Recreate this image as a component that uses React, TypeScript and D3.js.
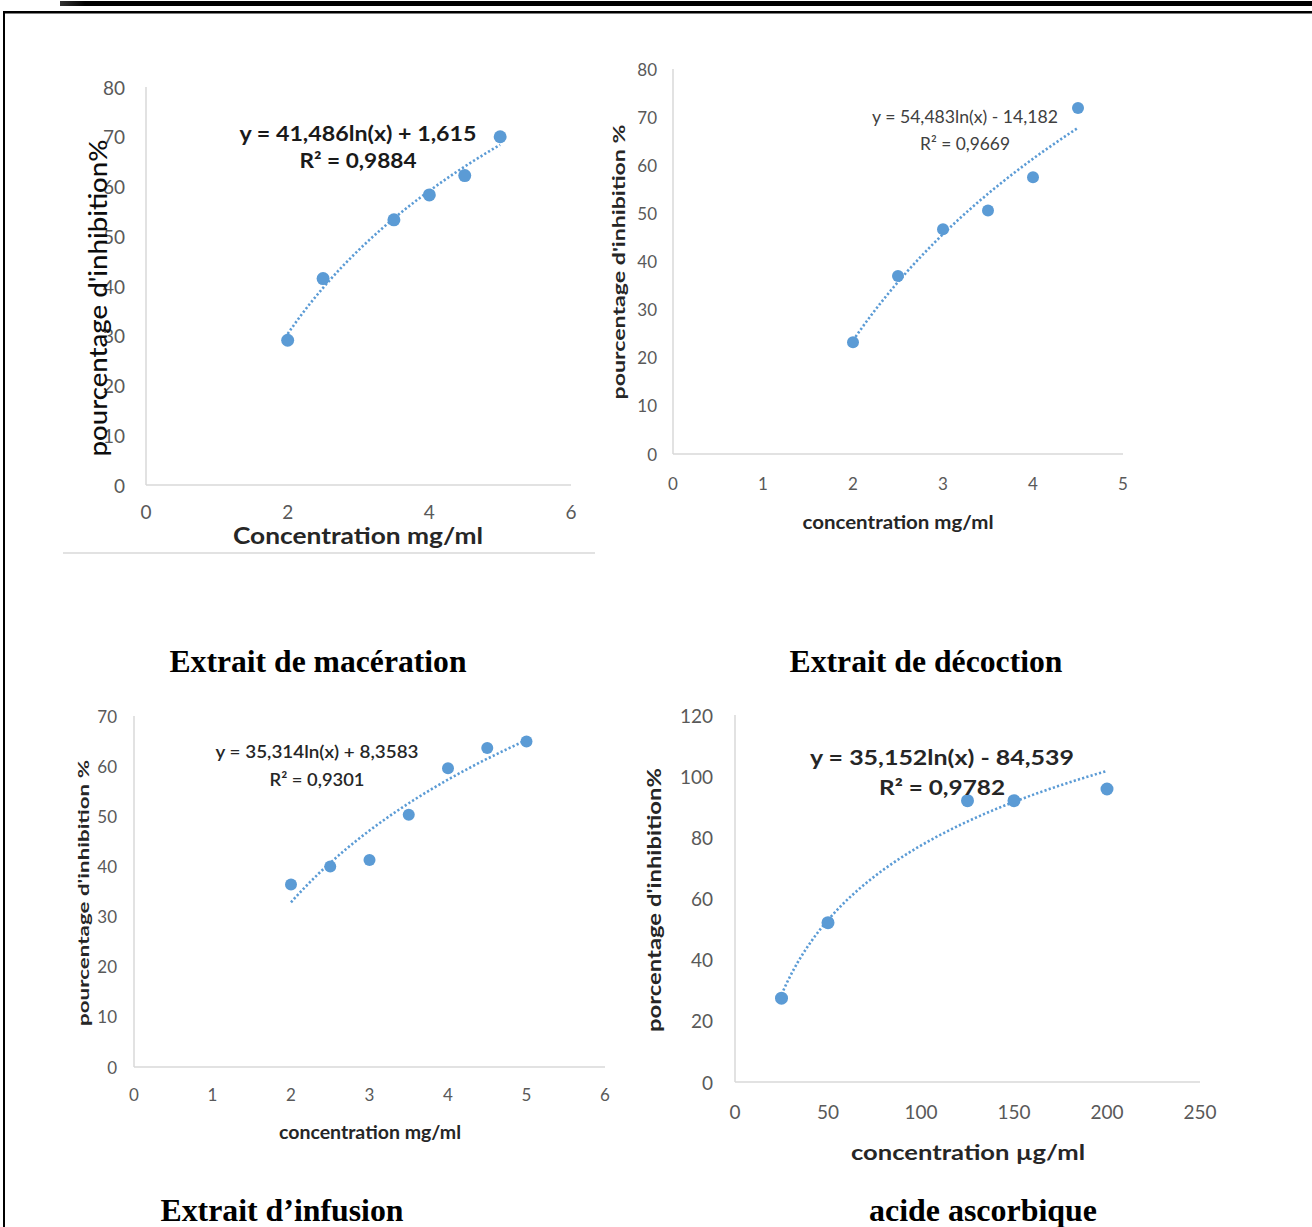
import React from 'react';
import * as d3 from 'd3';

// ---------- data ----------
const macConc = [2, 2.5, 3.5, 4, 4.5, 5];
const macInhib = [29.1, 41.5, 53.3, 58.3, 62.2, 70.0];
const macTrend = { a: 41.486, b: 1.615 };
const macEq = ['y = 41,486ln(x) + 1,615', 'R² = 0,9884'];
const macXTicks = [0, 2, 4, 6];
const macYTicks = [0, 10, 20, 30, 40, 50, 60, 70, 80];

const decConc = [2, 2.5, 3, 3.5, 4, 4.5];
const decInhib = [23.2, 37.0, 46.7, 50.6, 57.5, 71.9];
const decTrend = { a: 54.483, b: -14.182 };
const decEq = ['y = 54,483ln(x) - 14,182', 'R² = 0,9669'];
const decXTicks = [0, 1, 2, 3, 4, 5];
const decYTicks = [0, 10, 20, 30, 40, 50, 60, 70, 80];

const infConc = [2, 2.5, 3, 3.5, 4, 4.5, 5];
const infInhib = [36.4, 40.0, 41.3, 50.3, 59.6, 63.6, 64.9];
const infTrend = { a: 35.314, b: 8.3583 };
const infEq = ['y = 35,314ln(x) + 8,3583', 'R² = 0,9301'];
const infXTicks = [0, 1, 2, 3, 4, 5, 6];
const infYTicks = [0, 10, 20, 30, 40, 50, 60, 70];

const ascConc = [25, 50, 125, 150, 200];
const ascInhib = [27.4, 52.1, 92.0, 92.0, 95.8];
const ascTrend = { a: 35.152, b: -84.539 };
const ascEq = ['y = 35,152ln(x) - 84,539', 'R² = 0,9782'];
const ascXTicks = [0, 50, 100, 150, 200, 250];
const ascYTicks = [0, 20, 40, 60, 80, 100, 120];

const captions = ['Extrait de macération', 'Extrait de décoction', 'Extrait d’infusion', 'acide ascorbique'];

const BLUE = '#5b9bd5';
const TICK = '#595959';
const AXIS = '#d9d9d9';
const FONT = 'Lato, "Open Sans", sans-serif';

type PanelProps = {
  xs: number[]; ys: number[]; trend: { a: number; b: number }; eq: string[];
  xTicks: number[]; yTicks: number[];
  L: any;
};

function Panel({ xs, ys, trend, eq, xTicks, yTicks, L }: PanelProps) {
  const x = d3.scaleLinear().domain([xTicks[0], xTicks[xTicks.length - 1]]).range([L.x0, L.x1]);
  const y = d3.scaleLinear().domain([yTicks[0], yTicks[yTicks.length - 1]]).range([L.yb, L.yt]);
  const lo = d3.min(xs) as number;
  const hi = d3.max(xs) as number;
  const samples = d3.range(0, 61).map((i) => lo + ((hi - lo) * i) / 60);
  const line = d3.line<number>().x((v) => x(v)).y((v) => y(trend.a * Math.log(v) + trend.b));
  return (
    <g>
      <line x1={L.x0} x2={L.x0} y1={L.yt} y2={L.yb} stroke={AXIS} strokeWidth={1.5} />
      <line x1={L.x0} x2={L.x1} y1={L.yb} y2={L.yb} stroke={AXIS} strokeWidth={1.5} />
      {yTicks.map((t) => (
        <text key={'y' + t} x={L.yLabX} y={y(t)} textAnchor="end" dominantBaseline="central"
          fill={TICK} fontFamily={FONT} fontSize={L.tickFs}>{t}</text>
      ))}
      {xTicks.map((t) => (
        <text key={'x' + t} x={x(t)} y={L.xLabY} textAnchor="middle" dominantBaseline="central"
          fill={TICK} fontFamily={FONT} fontSize={L.tickFs}>{t}</text>
      ))}
      <path d={line(samples) || ''} fill="none" stroke={BLUE} strokeWidth={2.6}
        strokeDasharray="2.2 2.2" />
      {xs.map((v, i) => (
        <circle key={i} cx={x(v)} cy={y(ys[i])} r={L.r} fill={BLUE} />
      ))}
      <text x={L.eqX} y={L.eqY} textAnchor="middle" dominantBaseline="central" fill={L.eqColor}
        fontFamily={FONT} fontWeight={L.eqW} fontSize={L.eqFs} textLength={L.eqLen}
        lengthAdjust="spacingAndGlyphs">{eq[0]}</text>
      <text x={L.eqX} y={L.eqY + L.eqGap} textAnchor="middle" dominantBaseline="central" fill={L.eqColor}
        fontFamily={FONT} fontWeight={L.eqW} fontSize={L.eqFs} textLength={L.r2Len}
        lengthAdjust="spacingAndGlyphs">{eq[1]}</text>
      <text transform={`translate(${L.ytX},${L.ytY}) rotate(-90)`} textAnchor="middle"
        dominantBaseline="central" fill={L.ytColor} fontFamily={FONT} fontWeight={L.ytW}
        fontSize={L.ytFs} textLength={L.ytLen} lengthAdjust="spacingAndGlyphs">{L.yTitle}</text>
      <text x={L.xtX} y={L.xtY} textAnchor="middle" dominantBaseline="central" fill="#262626"
        fontFamily={FONT} fontWeight={700} fontSize={L.xtFs} textLength={L.xtLen}
        lengthAdjust="spacingAndGlyphs">{L.xTitle}</text>
    </g>
  );
}

export default function App() {
  const L1 = {
    x0: 146, x1: 571, yb: 485, yt: 87, yLabX: 125, xLabY: 511, tickFs: 19, r: 6.5,
    eqX: 358, eqY: 133, eqGap: 27, eqFs: 20, eqW: 700, eqColor: '#1a1a1a', eqLen: 237, r2Len: 117,
    ytX: 97, ytY: 298, ytFs: 24, ytW: 500, ytColor: '#0d0d0d', ytLen: 317, yTitle: 'pourcentage d\'inhibition%',
    xtX: 358, xtY: 535, xtFs: 23, xtLen: 250, xTitle: 'Concentration mg/ml',
  };
  const L2 = {
    x0: 673, x1: 1123, yb: 454, yt: 69, yLabX: 657, xLabY: 483, tickFs: 17, r: 6,
    eqX: 965, eqY: 116, eqGap: 27, eqFs: 18, eqW: 400, eqColor: '#404040', eqLen: 186, r2Len: 90,
    ytX: 618, ytY: 262, ytFs: 17, ytW: 700, ytColor: '#262626', ytLen: 275, yTitle: 'pourcentage d\'inhibition %',
    xtX: 898, xtY: 521, xtFs: 19, xtLen: 191, xTitle: 'concentration mg/ml',
  };
  const L3 = {
    x0: 134, x1: 605, yb: 1067, yt: 716, yLabX: 117, xLabY: 1094, tickFs: 17, r: 6,
    eqX: 317, eqY: 751, eqGap: 28, eqFs: 18, eqW: 600, eqColor: '#262626', eqLen: 203, r2Len: 95,
    ytX: 82, ytY: 893, ytFs: 16, ytW: 700, ytColor: '#262626', ytLen: 266, yTitle: 'pourcentage d\'inhibition %',
    xtX: 370, xtY: 1132, xtFs: 18, xtLen: 182, xTitle: 'concentration mg/ml',
  };
  const L4 = {
    x0: 735, x1: 1200, yb: 1082, yt: 715, yLabX: 713, xLabY: 1111, tickFs: 19, r: 6.5,
    eqX: 942, eqY: 756, eqGap: 30, eqFs: 21, eqW: 700, eqColor: '#262626', eqLen: 264, r2Len: 126,
    ytX: 653, ytY: 900, ytFs: 19, ytW: 700, ytColor: '#262626', ytLen: 264, yTitle: 'porcentage d\'inhibition%',
    xtX: 968, xtY: 1151, xtFs: 21, xtLen: 234, xTitle: 'concentration µg/ml',
  };
  const capFont = '"Liberation Serif", "Times New Roman", serif';
  return (
    <svg width={1312} height={1227} style={{ position: 'absolute', left: 0, top: 0, background: '#fff' }}>
      <rect x={0} y={0} width={1312} height={1227} fill="#fff" />
      <defs>
        <linearGradient id="topbar" x1="0" x2="1" y1="0" y2="0">
          <stop offset="0" stopColor="#333" />
          <stop offset="0.02" stopColor="#000" />
          <stop offset="1" stopColor="#000" />
        </linearGradient>
      </defs>
      <rect x={60} y={1} width={1252} height={5} fill="url(#topbar)" />
      <rect x={3} y={11} width={1309} height={2.5} fill="#000" />
      <rect x={3} y={11} width={2} height={1216} fill="#000" />
      <line x1={63} x2={595} y1={553} y2={553} stroke={AXIS} strokeWidth={1.5} />

      <Panel xs={macConc} ys={macInhib} trend={macTrend} eq={macEq} xTicks={macXTicks} yTicks={macYTicks} L={L1} />
      <Panel xs={decConc} ys={decInhib} trend={decTrend} eq={decEq} xTicks={decXTicks} yTicks={decYTicks} L={L2} />
      <Panel xs={infConc} ys={infInhib} trend={infTrend} eq={infEq} xTicks={infXTicks} yTicks={infYTicks} L={L3} />
      <Panel xs={ascConc} ys={ascInhib} trend={ascTrend} eq={ascEq} xTicks={ascXTicks} yTicks={ascYTicks} L={L4} />

      <text x={318} y={672} textAnchor="middle" fontFamily={capFont} fontWeight={700} fontSize={31} textLength={297} lengthAdjust="spacingAndGlyphs">{captions[0]}</text>
      <text x={926} y={672} textAnchor="middle" fontFamily={capFont} fontWeight={700} fontSize={31} textLength={273} lengthAdjust="spacingAndGlyphs">{captions[1]}</text>
      <text x={282} y={1221} textAnchor="middle" fontFamily={capFont} fontWeight={700} fontSize={31} textLength={243} lengthAdjust="spacingAndGlyphs">{captions[2]}</text>
      <text x={983} y={1221} textAnchor="middle" fontFamily={capFont} fontWeight={700} fontSize={31} textLength={228} lengthAdjust="spacingAndGlyphs">{captions[3]}</text>
    </svg>
  );
}
